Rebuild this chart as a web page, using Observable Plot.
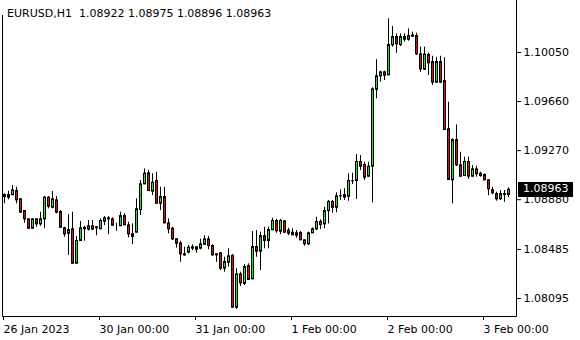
<!DOCTYPE html>
<html>
<head>
<meta charset="utf-8">
<script src="https://cdn.jsdelivr.net/npm/d3@7"></script>
<script src="https://cdn.jsdelivr.net/npm/@observablehq/plot@0.6"></script>
<style>
  html, body { margin: 0; padding: 0; background: #fff; }
  #wrap { position: relative; width: 580px; height: 340px; }
  #title { position: absolute; left: 0; top: 0; width: 285px; height: 8px; padding-top: 7px;
           padding-left: 7px; line-height: 13px; background: #fff; white-space: pre;
           font: 11px "DejaVu Sans", sans-serif; color: #000; overflow: visible; z-index: 2; }
</style>
</head>
<body>
<div id="wrap"><div id="title"></div></div>
<script>
const symbol = "EURUSD,H1";
const open = [1.08921,1.08900,1.08919,1.08953,1.08887,1.08794,1.08728,1.08653,1.08728,1.08688,
1.08728,1.08900,1.08820,1.08879,1.08786,1.08657,1.08614,1.08649,1.08375,1.08556,
1.08649,1.08646,1.08673,1.08665,1.08649,1.08709,1.08736,1.08728,1.08683,1.08673,
1.08754,1.08680,1.08609,1.08622,1.08802,1.09006,1.09094,1.08948,1.09033,1.08852,
1.08905,1.08696,1.08653,1.08569,1.08537,1.08450,1.08463,1.08495,1.08506,1.08495,
1.08526,1.08569,1.08516,1.08450,1.08458,1.08336,1.08383,1.08437,1.08026,1.08291,
1.08216,1.08357,1.08251,1.08508,1.08471,1.08595,1.08556,1.08641,1.08715,1.08630,
1.08712,1.08638,1.08622,1.08617,1.08619,1.08561,1.08530,1.08617,1.08649,1.08707,
1.08688,1.08794,1.08866,1.08820,1.08911,1.08921,1.08908,1.09030,1.09033,1.09184,
1.09160,1.09067,1.09146,1.09758,1.09865,1.09896,1.09873,1.10111,1.10177,1.10113,
1.10155,1.10155,1.10190,1.10185,1.10039,1.09917,1.10034,1.09978,1.09814,1.09978,
1.09827,1.09444,1.09038,1.09358,1.09157,1.09072,1.09184,1.09067,1.09125,1.09091,
1.09080,1.09038,1.08961,1.08929,1.08887,1.08929,1.08922];
const high = [1.08927,1.08948,1.08993,1.08979,1.08887,1.08794,1.08728,1.08728,1.08728,1.08781,
1.08905,1.08905,1.08945,1.08905,1.08794,1.08661,1.08762,1.08781,1.08588,1.08707,
1.08669,1.08715,1.08715,1.08665,1.08728,1.08746,1.08746,1.08736,1.08693,1.08781,
1.08768,1.08701,1.08688,1.08887,1.09033,1.09125,1.09112,1.09086,1.09099,1.08979,
1.08979,1.08728,1.08661,1.08569,1.08550,1.08502,1.08516,1.08522,1.08508,1.08566,
1.08595,1.08588,1.08522,1.08450,1.08458,1.08423,1.08490,1.08445,1.08331,1.08304,
1.08363,1.08371,1.08627,1.08635,1.08622,1.08661,1.08661,1.08733,1.08723,1.08723,
1.08715,1.08653,1.08649,1.08635,1.08627,1.08561,1.08622,1.08657,1.08741,1.08720,
1.08820,1.08874,1.08874,1.08935,1.08959,1.08967,1.09086,1.09091,1.09239,1.09231,
1.09178,1.09178,1.09769,1.09992,1.09901,1.09901,1.10318,1.10257,1.10198,1.10198,
1.10198,1.10238,1.10211,1.10203,1.10092,1.10092,1.10044,1.10020,1.10012,1.10020,
1.10008,1.09655,1.09364,1.09475,1.09257,1.09218,1.09218,1.09152,1.09146,1.09099,
1.09086,1.09038,1.08979,1.08940,1.08953,1.08953,1.08975];
const low = [1.08847,1.08879,1.08919,1.08847,1.08773,1.08693,1.08649,1.08649,1.08661,1.08669,
1.08649,1.08808,1.08808,1.08768,1.08653,1.08582,1.08437,1.08371,1.08371,1.08550,
1.08550,1.08630,1.08635,1.08593,1.08649,1.08675,1.08603,1.08675,1.08630,1.08673,
1.08675,1.08577,1.08524,1.08614,1.08754,1.09006,1.08945,1.08913,1.08852,1.08794,
1.08688,1.08609,1.08556,1.08495,1.08383,1.08431,1.08450,1.08476,1.08455,1.08482,
1.08516,1.08482,1.08431,1.08383,1.08317,1.08304,1.08344,1.08018,1.08007,1.08190,
1.08198,1.08238,1.08246,1.08423,1.08317,1.08490,1.08490,1.08635,1.08614,1.08603,
1.08614,1.08595,1.08595,1.08574,1.08556,1.08510,1.08516,1.08614,1.08635,1.08643,
1.08649,1.08688,1.08773,1.08776,1.08874,1.08874,1.08868,1.09001,1.08882,1.09112,
1.09033,1.09059,1.08855,1.09682,1.09814,1.09827,1.09865,1.10092,1.10044,1.10097,
1.10132,1.10140,1.10171,1.10026,1.09893,1.09907,1.09867,1.09788,1.09806,1.09806,
1.09430,1.09033,1.08847,1.09144,1.09059,1.09067,1.09041,1.09059,1.09059,1.09059,
1.09033,1.08911,1.08919,1.08868,1.08874,1.08860,1.08896];
const close = [1.08905,1.08921,1.08959,1.08879,1.08781,1.08728,1.08653,1.08728,1.08688,1.08728,
1.08900,1.08828,1.08887,1.08781,1.08661,1.08609,1.08643,1.08375,1.08556,1.08657,
1.08661,1.08673,1.08646,1.08657,1.08715,1.08736,1.08728,1.08677,1.08683,1.08754,
1.08680,1.08609,1.08588,1.08808,1.09006,1.09091,1.08953,1.09019,1.08852,1.08905,
1.08696,1.08649,1.08569,1.08534,1.08450,1.08442,1.08502,1.08506,1.08487,1.08530,
1.08569,1.08516,1.08442,1.08442,1.08336,1.08389,1.08434,1.08026,1.08291,1.08220,
1.08349,1.08246,1.08508,1.08471,1.08595,1.08556,1.08643,1.08715,1.08633,1.08715,
1.08622,1.08614,1.08601,1.08598,1.08561,1.08530,1.08617,1.08649,1.08707,1.08683,
1.08794,1.08866,1.08820,1.08911,1.08912,1.08900,1.09033,1.09031,1.09184,1.09146,
1.09059,1.09146,1.09761,1.09865,1.09896,1.09869,1.10113,1.10177,1.10119,1.10177,
1.10177,1.10185,1.10179,1.10039,1.09920,1.10039,1.09968,1.09814,1.09978,1.09814,
1.09438,1.09041,1.09358,1.09157,1.09067,1.09184,1.09067,1.09125,1.09086,1.09072,
1.09038,1.08967,1.08935,1.08887,1.08929,1.08921,1.08963];
const timeTickBars = [0, 24, 48, 72, 96, 120];
const timeTickLabels = ["26 Jan 2023", "30 Jan 00:00", "31 Jan 00:00", "1 Feb 00:00", "2 Feb 00:00", "3 Feb 00:00"];
const priceTicks = [1.08095, 1.08485, 1.08880, 1.09270, 1.09660, 1.10050];

const bars = open.map((o, i) => ({i, open: o, high: high[i], low: low[i], close: close[i]}));
const last = bars[bars.length - 1];
const bullColor = "#32dc32", bearColor = "#d21414";
const fmt = v => v.toFixed(5);

document.getElementById("title").textContent =
  `${symbol}  ${fmt(last.open)} ${fmt(last.high)} ${fmt(last.low)} ${fmt(last.close)}`;

const labelOf = new Map(timeTickBars.map((b, k) => [b, timeTickLabels[k]]));

// left, right and bottom border of the chart area (no top line)
const borders = (index, scales, values, dims) => {
  const L = dims.marginLeft + 0.5, R = dims.width - dims.marginRight + 0.5, B = dims.height - dims.marginBottom + 0.5;
  const g = d3.create("svg:g").attr("stroke", "#000").attr("fill", "none");
  g.append("path").attr("d", `M${L},0V${B}H${R}V0`);
  return g.node();
};

const priceLabel = (index, scales, values, dims) => {
  const y = scales.y(last.close);
  const x0 = dims.width - dims.marginRight + 2;
  const g = d3.create("svg:g");
  g.append("rect").attr("x", x0).attr("y", Math.round(y) - 7).attr("width", 55).attr("height", 15).attr("fill", "#000");
  g.append("text").attr("x", x0 + 5).attr("y", y).attr("dy", "0.32em").attr("fill", "#fff")
    .attr("text-anchor", "start")
    .attr("font-family", "'DejaVu Sans', sans-serif").attr("font-size", 11).text(fmt(last.close));
  return g.node();
};

const chart = Plot.plot({
  width: 580,
  height: 340,
  marginLeft: 2,
  marginRight: 64,
  marginTop: 0,
  marginBottom: 24,
  x: {type: "linear", domain: [0, bars.length - 1], range: [4, 4 + 4 * (bars.length - 1)]},
  y: {type: "linear", domain: [priceTicks[0], priceTicks[priceTicks.length - 1]], range: [298, 52]},
  style: {fontFamily: "'DejaVu Sans', sans-serif", fontSize: "11px", color: "#000", background: "#fff", overflow: "visible"},
  marks: [
    borders,
    Plot.ruleX(bars, {x: "i", y1: "low", y2: "high", stroke: "#000", strokeWidth: 1}),
    Plot.rect(bars, {
      x1: d => d.i - 0.25, x2: d => d.i + 0.25,
      y1: "open", y2: "close",
      fill: d => d.close >= d.open ? bullColor : bearColor,
      stroke: "#000", strokeWidth: 1, dx: 0.5, dy: 0.5
    }),
    Plot.axisY({anchor: "right", ticks: priceTicks, tickFormat: fmt, tickSize: 4, tickPadding: 3, label: null}),
    Plot.axisX({anchor: "bottom", ticks: timeTickBars, tickFormat: d => labelOf.get(d), tickSize: 4, tickPadding: 5,
                textAnchor: "start", dx: -1, label: null}),
    priceLabel
  ]
});
document.getElementById("wrap").appendChild(chart);
</script>
</body>
</html>
